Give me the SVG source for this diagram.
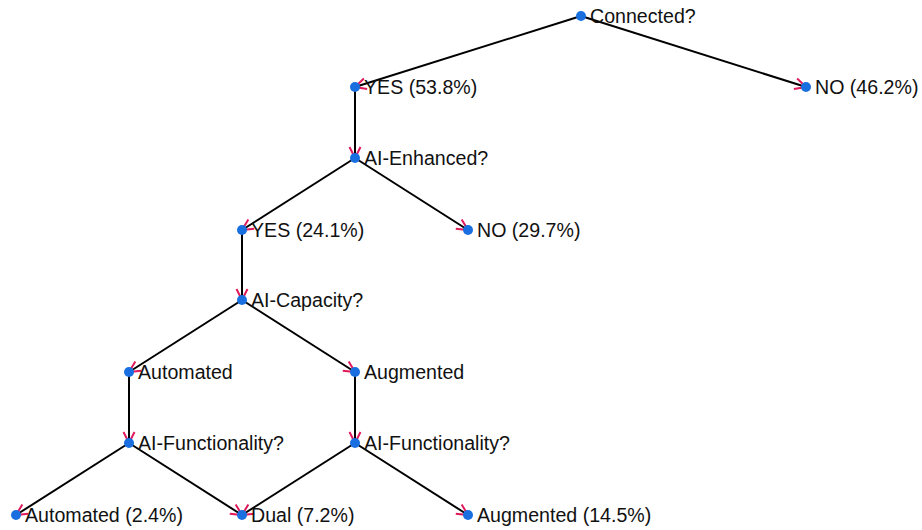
<svg xmlns="http://www.w3.org/2000/svg" width="922" height="530" viewBox="0 0 922 530">
<style>
.e{stroke:#000;stroke-width:2;fill:none;marker-end:url(#ah)}
.d{fill:#1a6fe0}
.t{font-family:"Liberation Sans",Arial,sans-serif;font-size:19.6px;fill:#111}
</style>
<defs>
<marker id="ah" markerUnits="userSpaceOnUse" markerWidth="14" markerHeight="14" viewBox="0 0 14 14" refX="13" refY="7" orient="auto">
<path d="M2,1.5 L13,7 L2,12.5" fill="none" stroke="#e0195a" stroke-width="2"/>
</marker>
</defs>
<rect width="922" height="530" fill="#fff"/>
<g id="connectors">
<line class="e" x1="581" y1="16" x2="355" y2="87"/>
<line class="e" x1="581" y1="16" x2="806" y2="87"/>
<line class="e" x1="355" y1="87" x2="355" y2="158"/>
<line class="e" x1="355" y1="158" x2="242" y2="230"/>
<line class="e" x1="355" y1="158" x2="468" y2="230"/>
<line class="e" x1="242" y1="230" x2="242" y2="300"/>
<line class="e" x1="242" y1="300" x2="129" y2="372"/>
<line class="e" x1="242" y1="300" x2="355" y2="372"/>
<line class="e" x1="129" y1="372" x2="129" y2="443"/>
<line class="e" x1="355" y1="372" x2="355" y2="443"/>
<line class="e" x1="129" y1="443" x2="16" y2="515"/>
<line class="e" x1="129" y1="443" x2="242" y2="515"/>
<line class="e" x1="355" y1="443" x2="242" y2="515"/>
<line class="e" x1="355" y1="443" x2="468" y2="515"/>
</g>
<g id="n-connected"><circle class="d" cx="581" cy="16" r="5"/><text class="t" x="590" y="23">Connected?</text></g>
<g id="n-yes1"><circle class="d" cx="355" cy="87" r="5"/><text class="t" x="364" y="94">YES (53.8%)</text></g>
<g id="n-no1"><circle class="d" cx="806" cy="87" r="5"/><text class="t" x="815" y="94">NO (46.2%)</text></g>
<g id="n-aienh"><circle class="d" cx="355" cy="158" r="5"/><text class="t" x="364" y="165">AI-Enhanced?</text></g>
<g id="n-yes2"><circle class="d" cx="242" cy="230" r="5"/><text class="t" x="251" y="237">YES (24.1%)</text></g>
<g id="n-no2"><circle class="d" cx="468" cy="230" r="5"/><text class="t" x="477" y="237">NO (29.7%)</text></g>
<g id="n-aicap"><circle class="d" cx="242" cy="300" r="5"/><text class="t" x="251" y="307">AI-Capacity?</text></g>
<g id="n-auto"><circle class="d" cx="129" cy="372" r="5"/><text class="t" x="138" y="379">Automated</text></g>
<g id="n-aug"><circle class="d" cx="355" cy="372" r="5"/><text class="t" x="364" y="379">Augmented</text></g>
<g id="n-aifun1"><circle class="d" cx="129" cy="443" r="5"/><text class="t" x="138" y="450">AI-Functionality?</text></g>
<g id="n-aifun2"><circle class="d" cx="355" cy="443" r="5"/><text class="t" x="364" y="450">AI-Functionality?</text></g>
<g id="n-auto2"><circle class="d" cx="16" cy="515" r="5"/><text class="t" x="25" y="522">Automated (2.4%)</text></g>
<g id="n-dual"><circle class="d" cx="242" cy="515" r="5"/><text class="t" x="251" y="522">Dual (7.2%)</text></g>
<g id="n-aug2"><circle class="d" cx="468" cy="515" r="5"/><text class="t" x="477" y="522">Augmented (14.5%)</text></g>
</svg>
